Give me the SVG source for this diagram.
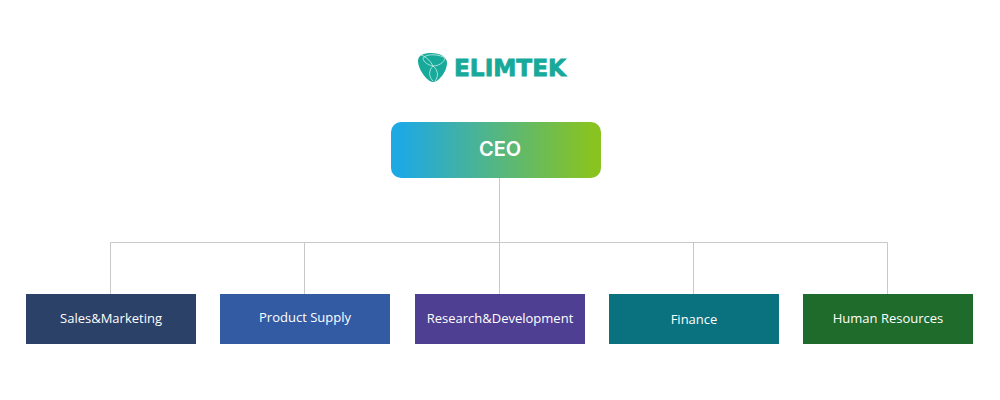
<svg xmlns="http://www.w3.org/2000/svg" width="1000" height="400" viewBox="0 0 1000 400">
<style>
.dept{font:13px "Open Sans","Liberation Sans",sans-serif;fill:#fff;text-anchor:middle}
.wire{fill:none;stroke:#c8c8c8;stroke-width:1}
</style>
<defs>
<linearGradient id="ceoGrad" x1="0" y1="0" x2="1" y2="0"><stop offset="0.05" stop-color="#1fa9e3"/><stop offset="0.95" stop-color="#88c322"/></linearGradient>
</defs>
<rect width="1000" height="400" fill="#fff"/>
<g id="logo">
<path d="M418 61C418 55 424 53 431 53C440 53 447 57 447 63C447 71 439 82 433 82C427 82 418 69 418 61Z" fill="#17a99a"/>
<path d="M421 55C427 57 431 62 433 66M445 58C441 55 429 53 424 57C421 60 427 65 433 66C438 66 444 63 445 58M433 66C429 70 428 76 433 81M433 66C438 70 439 76 435 81" fill="none" stroke="#c9eee9" stroke-width="0.8"/>
<text x="454" y="76" font-family="'DejaVu Sans',sans-serif" font-weight="700" font-size="23.500" fill="#17a99a" textLength="112" lengthAdjust="spacingAndGlyphs" stroke="#17a99a" stroke-width="0.8">ELIMTEK</text>
</g>
<g id="connectors" class="wire">
<path d="M499.500 178V294M110.500 294V242.500H887.500V294M304.500 242.500V294M693.500 242.500V294"/>
</g>
<g id="ceo">
<rect x="391" y="122" width="210" height="56" rx="10" fill="url(#ceoGrad)"/>
<text x="500" y="156" font-family="Inter,'Liberation Sans',sans-serif" font-weight="600" font-size="20" fill="#fff" text-anchor="middle">CEO</text>
</g>
<g id="sales"><rect x="26" y="294" width="170" height="50" fill="#2c4168"/><text class="dept" x="111" y="323">Sales&amp;Marketing</text></g>
<g id="supply"><rect x="220" y="294" width="170" height="50" fill="#335ba3"/><text class="dept" x="305" y="322">Product Supply</text></g>
<g id="rnd"><rect x="415" y="294" width="170" height="50" fill="#4f3f92"/><text class="dept" x="500" y="323">Research&amp;Development</text></g>
<g id="finance"><rect x="609" y="294" width="170" height="50" fill="#0a717f"/><text class="dept" x="694" y="324">Finance</text></g>
<g id="hr"><rect x="803" y="294" width="170" height="50" fill="#1f6b2c"/><text class="dept" x="888" y="323">Human Resources</text></g>
</svg>
